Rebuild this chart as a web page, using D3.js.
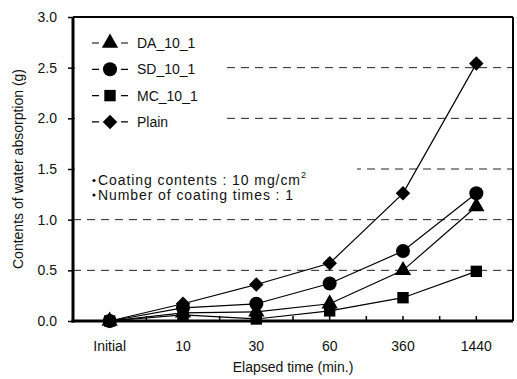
<!DOCTYPE html>
<html>
<head>
<meta charset="utf-8">
<script src="https://cdn.jsdelivr.net/npm/d3@7"></script>
<style>
  body { margin: 0; background: #fff; }
  text { font-family: "Liberation Sans", Arial, sans-serif; fill: #111; }
</style>
</head>
<body>
<div id="chart"></div>
<script>
const categories = ['Initial', '10', '30', '60', '360', '1440'];
const seriesNames = ['DA_10_1', 'SD_10_1', 'MC_10_1', 'Plain'];
const daValues = [0, 0.08, 0.09, 0.17, 0.50, 1.13];
const sdValues = [0, 0.13, 0.17, 0.37, 0.69, 1.26];
const mcValues = [0, 0.06, 0.02, 0.10, 0.23, 0.49];
const plainValues = [0, 0.17, 0.36, 0.57, 1.26, 2.54];
const yTicks = [0, 0.5, 1.0, 1.5, 2.0, 2.5, 3.0];
const gridValues = [0.5, 1.0, 1.5, 2.0, 2.5];
const notes = ['Coating contents : 10 mg/cm', 'Number of coating times : 1'];

// diamond = square turned 45 degrees
const series = [
  { name: seriesNames[0], values: daValues, symbol: d3.symbolTriangle, size: 115, rot: 0 },
  { name: seriesNames[1], values: sdValues, symbol: d3.symbolCircle, size: 155, rot: 0 },
  { name: seriesNames[2], values: mcValues, symbol: d3.symbolSquare, size: 130, rot: 0 },
  { name: seriesNames[3], values: plainValues, symbol: d3.symbolSquare, size: 105, rot: 45 }
];

const W = 517, H = 379;
const margin = { top: 17, right: 4, bottom: 58, left: 73 };
const width = W - margin.left - margin.right;
const height = H - margin.top - margin.bottom;

const svg = d3.select('#chart').append('svg')
  .attr('width', W)
  .attr('height', H);

const g = svg.append('g')
  .attr('transform', `translate(${margin.left},${margin.top})`);

const x = d3.scaleBand().domain(categories).range([0, width]);
const y = d3.scaleLinear().domain([0, 3]).range([height, 0]);
const cx = c => x(c) + x.bandwidth() / 2;

// dashed gridlines
g.selectAll('.grid')
  .data(gridValues)
  .enter().append('line')
  .attr('x1', 0).attr('x2', width)
  .attr('y1', d => y(d)).attr('y2', d => y(d))
  .attr('stroke', '#222')
  .attr('stroke-width', 1)
  .attr('stroke-dasharray', '8,6');

// white boxes behind legend and notes hide gridlines
g.append('rect').attr('x', 2).attr('y', 5).attr('width', 147).attr('height', 118).attr('fill', '#fff');
g.append('rect').attr('x', 2).attr('y', 140).attr('width', 282).attr('height', 45).attr('fill', '#fff');

// frame
g.append('line').attr('x1', 0).attr('x2', width).attr('y1', 0).attr('y2', 0)
  .attr('stroke', '#000').attr('stroke-width', 2);
g.append('line').attr('x1', width).attr('x2', width).attr('y1', 0).attr('y2', height)
  .attr('stroke', '#000').attr('stroke-width', 2);

// x axis: ticks at category centers and boundaries, pointing inward
const xTickPos = d3.range(categories.length * 2 + 1).map(i => i * x.bandwidth() / 2);
g.selectAll('.xtick')
  .data(xTickPos)
  .enter().append('line')
  .attr('x1', d => d).attr('x2', d => d)
  .attr('y1', height).attr('y2', height - 5)
  .attr('stroke', '#000').attr('stroke-width', 1.5);

g.selectAll('.xlabel')
  .data(categories)
  .enter().append('text')
  .attr('x', d => cx(d))
  .attr('y', height + 30)
  .attr('text-anchor', 'middle')
  .style('font-size', '14px')
  .text(d => d);

// y axis
const yAxis = g.append('g')
  .call(d3.axisLeft(y).tickValues(yTicks).tickFormat(d3.format('.1f')).tickSize(5).tickPadding(11));
yAxis.select('.domain').remove();
yAxis.selectAll('line').attr('stroke-width', 1.5);
yAxis.selectAll('text').style('font-size', '14px').style('font-family', '"Liberation Sans", Arial, sans-serif').attr('fill', '#111');

g.append('line').attr('x1', 0).attr('x2', 0).attr('y1', 0).attr('y2', height + 1.5)
  .attr('stroke', '#000').attr('stroke-width', 3);
g.append('line').attr('x1', -1.5).attr('x2', width).attr('y1', height).attr('y2', height)
  .attr('stroke', '#000').attr('stroke-width', 3);

// lines and markers
const line = d3.line()
  .x((d, i) => cx(categories[i]))
  .y(d => y(d));

series.forEach(s => {
  g.append('path')
    .datum(s.values)
    .attr('fill', 'none')
    .attr('stroke', '#000')
    .attr('stroke-width', 1.2)
    .attr('d', line);
});

series.forEach(s => {
  g.selectAll(null)
    .data(s.values)
    .enter().append('path')
    .attr('transform', (d, i) => `translate(${cx(categories[i])},${y(d)}) rotate(${s.rot})`)
    .attr('d', d3.symbol().type(s.symbol).size(s.size))
    .attr('fill', '#000');
});

// legend
const legend = g.append('g').attr('transform', 'translate(19, 26)');
series.forEach((s, i) => {
  const ly = i * 26.3;
  legend.append('line')
    .attr('x1', 0).attr('x2', 36)
    .attr('y1', ly).attr('y2', ly)
    .attr('stroke', '#000').attr('stroke-width', 1.2)
    .attr('stroke-dasharray', '7,22,7');
  legend.append('path')
    .attr('transform', `translate(18,${ly}) rotate(${s.rot})`)
    .attr('d', d3.symbol().type(s.symbol).size(s.size))
    .attr('fill', '#000');
  legend.append('text')
    .attr('x', 45).attr('y', ly + 5)
    .style('font-size', '14px')
    .text(s.name);
});

// notes
const noteLengths = [202, 195];
notes.forEach((t, i) => {
  const ty = 168 + i * 14.5;
  g.append('circle').attr('cx', 21).attr('cy', ty - 4.5).attr('r', 1.6).attr('fill', '#111');
  const txt = g.append('text')
    .attr('x', 25).attr('y', ty)
    .style('font-size', '14px')
    .attr('textLength', noteLengths[i])
    .attr('lengthAdjust', 'spacing')
    .text(t);
  if (i === 0) {
    g.append('text')
      .attr('x', 25 + noteLengths[0] + 1).attr('y', ty - 7)
      .style('font-size', '9px')
      .text('2');
  }
});

// axis titles
svg.append('text')
  .attr('transform', `translate(23,${margin.top + height / 2}) rotate(-90)`)
  .attr('text-anchor', 'middle')
  .style('font-size', '14px')
  .text('Contents of water absorption (g)');

svg.append('text')
  .attr('x', margin.left + width / 2)
  .attr('y', 372)
  .attr('text-anchor', 'middle')
  .style('font-size', '14px')
  .text('Elapsed time (min.)');
</script>
</body>
</html>
